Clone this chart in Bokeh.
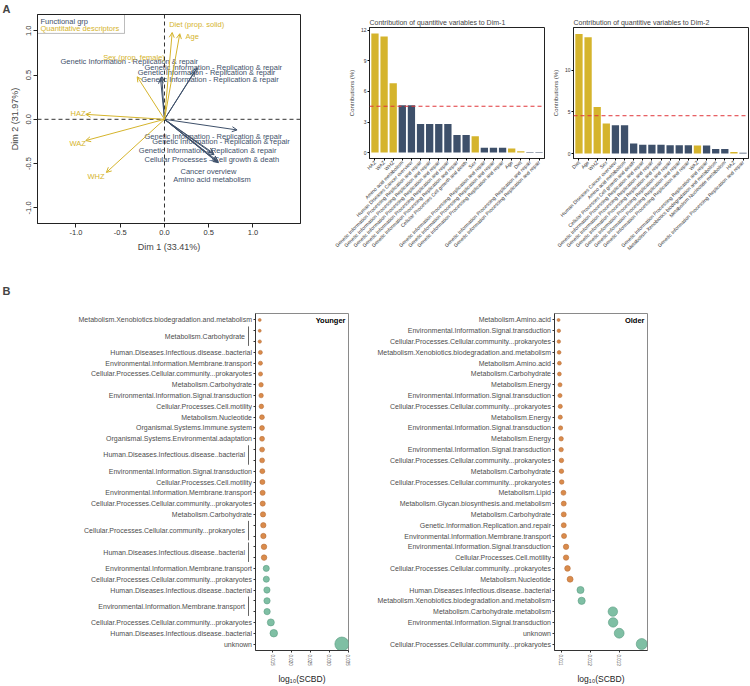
import math
from bokeh.plotting import figure
from bokeh.models import (Range1d, FixedTicker, NumeralTickFormatter, Span, Label, Arrow,
                          OpenHead, ColumnDataSource, BoxAnnotation)
from bokeh.layouts import row, column
from bokeh.embed import file_html
from bokeh.resources import INLINE
from bokeh.core.properties import value

FONT = "Liberation Sans"
YEL = "#D5B42C"
SLATE = "#3E506A"
ORANGE = "#DA8B4B"
ORANGE_L = "#B9703A"
GREEN = "#7FBFA4"
GREEN_L = "#5B9C82"
LABC = "#4d4d4d"

# ---------------- Panel A : biplot ----------------
desc_names = ["Diet (prop. solid)", "Age", "Sex (prop. female)", "HAZ", "WAZ", "WHZ"]
desc_x = [0.087, 0.173, -0.308, -0.89, -0.89, -0.657]
desc_y = [0.98, 0.966, 0.48, 0.056, -0.24, -0.60]
desc_lab_x = [0.053, 0.237, -0.693, -1.062, -1.073, -0.870]
desc_lab_y = [1.065, 0.936, 0.70, 0.06, -0.278, -0.645]

func_names = (["Genetic Information - Replication & repair"] * 7 +
              ["Cellular Processes - Cell growth & death", "Cancer overview",
               "Amino acid metabolism"])
func_x = [-0.045, 0.37, 0.34, -0.03, 0.82, 0.55, 0.56, 0.61, 0.60, 0.59]
func_y = [0.46, 0.58, 0.54, 0.48, -0.12, -0.38, -0.40, -0.49, -0.47, -0.48]
func_lab_x = [-1.175, -0.226, -0.302, -0.263, -0.226, -0.139, -0.290, -0.226, 0.181, 0.099]
func_lab_y = [0.647, 0.580, 0.524, 0.449, -0.189, -0.245, -0.349, -0.457, -0.593, -0.683]

bip_ticks = [-1.0, -0.5, 0.0, 0.5, 1.0]

# ---------------- Panel A : contribution bars ----------------
GIP = "Genetic Information Processing Replication and repair"
dim1_names = ["HAZ", "WAZ", "WHZ", "Amino acid metabolism", "Human Diseases Cancer overview",
              GIP, GIP, GIP, GIP, GIP, "Cellular Processes Cell growth and death", "Sex",
              GIP, GIP, GIP, "Age", "Diet", GIP, GIP]
dim1_vals = [11.7, 11.4, 6.8, 4.65, 4.65, 2.8, 2.8, 2.8, 2.8, 1.73, 1.73, 1.6,
             0.48, 0.48, 0.48, 0.4, 0.13, 0.07, 0.07]
dim1_kind = ["Q", "Q", "Q", "F", "F", "F", "F", "F", "F", "F", "F", "Q",
             "F", "F", "F", "Q", "Q", "F", "F"]

dim2_names = ["Diet", "Age", "WHZ", "Sex", "Human Diseases Cancer overview", "Amino acid metabolism",
              "Cellular Processes Cell growth and death", GIP, GIP, GIP, GIP, GIP, GIP, "WAZ", GIP,
              "Metabolism Xenobiotics biodegradation and metabolism",
              "Metabolism Nucleotide metabolism", "HAZ", GIP]
dim2_vals = [14.4, 14.0, 5.6, 3.6, 3.4, 3.4, 1.2, 1.06, 1.06, 1.06, 1.0, 1.0, 1.0, 0.95,
             0.95, 0.55, 0.55, 0.17, 0.1]
dim2_kind = ["Q", "Q", "Q", "Q", "F", "F", "F", "F", "F", "F", "F", "F", "F", "Q",
             "F", "F", "F", "Q", "F"]
ref_line = 4.55

# ---------------- Panel B : SCBD dot plots ----------------
MC = "Metabolism.Carbohydrate"
HD = "Human.Diseases.Infectious.disease..bacterial"
EM = "Environmental.Information.Membrane.transport"
CC = "Cellular.Processes.Cellular.community...prokaryotes"
ES = "Environmental.Information.Signal.transduction"
CM = "Cellular.Processes.Cell.motility"
XB = "Metabolism.Xenobiotics.biodegradation.and.metabolism"

yng_labels = [XB, MC, MC, HD, EM, CC, MC, ES, CM, "Metabolism.Nucleotide",
              "Organismal.Systems.Immune.system", "Organismal.Systems.Environmental.adaptation",
              HD, HD, ES, CM, EM, CC, MC, CC, CC, HD, HD, EM, CC, HD, EM, EM, CC, HD, "unknown"]
yng_vals = [0.01158, 0.01158, 0.01160, 0.01176, 0.01178, 0.01180, 0.01194, 0.01196, 0.01202,
            0.01218, 0.01220, 0.01221, 0.01222, 0.01223, 0.01228, 0.01230, 0.01236, 0.01238,
            0.01246, 0.01254, 0.01256, 0.01272, 0.01274, 0.01332, 0.01334, 0.01350, 0.01352,
            0.01354, 0.01453, 0.01531, 0.03334]
yng_grp = ["low"] * 23 + ["high"] * 8
yng_brackets = [(2, 3), (13, 14), (20, 21), (22, 23), (27, 28)]
yng_ticks = [0.015, 0.020, 0.025, 0.030, 0.035]

old_labels = ["Metabolism.Amino.acid", ES, CC, XB, "Metabolism.Amino.acid", MC,
              "Metabolism.Energy", ES, CC, "Metabolism.Energy", ES, "Metabolism.Energy", ES, CC,
              MC, CC, "Metabolism.Lipid", "Metabolism.Glycan.biosynthesis.and.metabolism", MC,
              "Genetic.Information.Replication.and.repair", EM, ES, CM, CC,
              "Metabolism.Nucleotide", HD, XB, "Metabolism.Carbohydrate.metabolism", ES,
              "unknown", CC]
old_vals = [0.01090, 0.01091, 0.01091, 0.01092, 0.01093, 0.01093, 0.01095, 0.01095, 0.01096,
            0.01096, 0.01097, 0.01099, 0.01099, 0.01100, 0.01100, 0.01101, 0.01107, 0.01108,
            0.01108, 0.01108, 0.01109, 0.01116, 0.01116, 0.01121, 0.01130, 0.01166, 0.01170,
            0.01278, 0.01279, 0.01300, 0.01378]
old_grp = ["low"] * 25 + ["high"] * 6
old_ticks = [0.011, 0.012, 0.013, 0.014]

ROW_A_H = 265
ROW_B_H = 421
B_TOP = 48
B_BOT = 34


def style_axes(p, size="7px", color="#333333"):
    for ax in (p.xaxis[0], p.yaxis[0]):
        ax.major_label_text_font = FONT
        ax.major_label_text_font_size = size
        ax.major_label_text_color = color
        ax.axis_label_text_font = FONT
        ax.axis_label_text_font_style = "normal"
        ax.minor_tick_line_color = None
        ax.major_tick_in = 0


# ---------- biplot ----------
bxr = Range1d(-1.435, 1.537)
byr = Range1d(-1.176, 1.183)
bip = figure(width=310, height=ROW_A_H, x_range=bxr, y_range=byr, output_backend="svg",
             toolbar_location=None, min_border_left=37, min_border_right=10,
             min_border_top=13, min_border_bottom=ROW_A_H - 223)
bip.grid.visible = False
bip.outline_line_color = "#222222"
style_axes(bip, "7.5px", "#333333")
bip.xaxis.ticker = FixedTicker(ticks=bip_ticks)
bip.yaxis.ticker = FixedTicker(ticks=bip_ticks)
bip.xaxis.formatter = NumeralTickFormatter(format="0.0")
bip.yaxis.formatter = NumeralTickFormatter(format="0.0")
bip.yaxis.major_label_orientation = "vertical"
bip.xaxis.axis_label = "Dim 1 (33.41%)"
bip.yaxis.axis_label = "Dim 2 (31.97%)"
for ax in (bip.xaxis[0], bip.yaxis[0]):
    ax.axis_label_text_font_size = "9px"
    ax.major_tick_out = 4
    ax.major_label_standoff = 2
    ax.axis_label_standoff = 4
    ax.axis_line_color = "#222222"
    ax.major_tick_line_color = "#222222"
bip.title.text = "A"
bip.title.text_font = FONT
bip.title.text_font_size = "11px"
bip.title.text_font_style = "bold"
bip.title.align = "left"
bip.title.offset = -35
bip.title.standoff = 0

bip.add_layout(Span(location=0, dimension="width", line_color="#333333", line_dash="4 3", line_width=1))
bip.add_layout(Span(location=0, dimension="height", line_color="#333333", line_dash="4 3", line_width=1))

src_f = ColumnDataSource(dict(x0=[0] * len(func_x), y0=[0] * len(func_y), x1=func_x, y1=func_y))
bip.add_layout(Arrow(end=OpenHead(size=5, line_color=SLATE, line_width=1), source=src_f,
                     x_start="x0", y_start="y0", x_end="x1", y_end="y1",
                     line_color=SLATE, line_width=1))
src_d = ColumnDataSource(dict(x0=[0] * len(desc_x), y0=[0] * len(desc_y), x1=desc_x, y1=desc_y))
bip.add_layout(Arrow(end=OpenHead(size=5, line_color=YEL, line_width=1), source=src_d,
                     x_start="x0", y_start="y0", x_end="x1", y_end="y1",
                     line_color=YEL, line_width=1))
bip.text(x=func_lab_x, y=func_lab_y, text=func_names, text_color=SLATE,
         text_font=value(FONT), text_font_size="7.5px", text_align="left", text_baseline="middle")
bip.text(x=desc_lab_x, y=desc_lab_y, text=desc_names, text_color=YEL,
         text_font=value(FONT), text_font_size="7.5px", text_align="left", text_baseline="middle")

bpx = (bxr.end - bxr.start) / 263.0
bpy = (byr.end - byr.start) / 210.0
bip.add_layout(BoxAnnotation(left=bxr.start, right=bxr.start + 87 * bpx, top=byr.end,
                             bottom=byr.end - 19 * bpy, fill_alpha=0, line_color="#222222",
                             line_width=1))
bip.add_layout(Label(x=bxr.start, y=byr.end, x_offset=3, y_offset=-2, text="Functional grp",
                     text_color=SLATE, text_font=FONT, text_font_size="7.5px",
                     text_baseline="top"))
bip.add_layout(Label(x=bxr.start, y=byr.end, x_offset=3, y_offset=-9,
                     text="Quantitative descriptors", text_color=YEL, text_font=FONT,
                     text_font_size="7.5px", text_baseline="top"))


# ---------- contribution bars ----------
def barchart(title, names, vals, kinds, ylo, yhi, ticks, width, mbl, mbr, mbt):
    n = len(vals)
    xs = list(range(1, n + 1))
    p = figure(width=width, height=ROW_A_H, x_range=Range1d(0.4, n + 0.6),
               y_range=Range1d(ylo, yhi), output_backend="svg", toolbar_location=None,
               min_border_left=mbl, min_border_right=mbr, min_border_top=mbt,
               min_border_bottom=ROW_A_H - 158)
    p.grid.visible = False
    p.outline_line_color = "#222222"
    p.vbar(x=xs, top=vals, width=0.8, fill_color=[YEL if k == "Q" else SLATE for k in kinds],
           line_color=None)
    p.add_layout(Span(location=ref_line, dimension="width", line_color="#E0353A",
                      line_dash="4 3", line_width=1))
    style_axes(p, "5px", "#333333")
    p.xaxis.ticker = FixedTicker(ticks=xs)
    p.xaxis.major_label_overrides = {i: nm for i, nm in zip(xs, names)}
    p.xaxis.major_label_orientation = math.pi / 4
    p.yaxis.ticker = FixedTicker(ticks=ticks)
    p.yaxis.axis_label = "Contributions (%)"
    p.yaxis.axis_label_text_font_size = "6px"
    for ax in (p.xaxis[0], p.yaxis[0]):
        ax.major_tick_out = 2
        ax.major_label_standoff = 1
        ax.axis_label_standoff = 3
        ax.axis_line_color = "#222222"
    p.title.text = title
    p.title.text_font = FONT
    p.title.text_font_size = "7px"
    p.title.text_font_style = "normal"
    p.title.align = "left"
    p.title.standoff = 3
    return p


c1 = barchart("Contribution of quantitive variables to Dim-1", dim1_names, dim1_vals, dim1_kind,
              -0.58, 12.28, [0, 3, 6, 9, 12], 238, 59, 4, 25)
c2 = barchart("Contribution of quantitive variables to Dim-2", dim2_names, dim2_vals, dim2_kind,
              -0.6, 15.17, [0, 5, 10], 202, 25, 2, 27)


# ---------- SCBD dot plots ----------
def dotplot(vals, grp, ticks, xlo, xhi, yr, width, mbr, dmax, title):
    n = len(vals)
    ys = list(range(1, n + 1))
    xr = Range1d(xlo, xhi)
    p = figure(width=width, height=ROW_B_H, x_range=xr, y_range=yr, output_backend="svg",
               toolbar_location=None, min_border_left=3, min_border_right=mbr,
               min_border_top=B_TOP, min_border_bottom=B_BOT)
    p.grid.visible = False
    p.outline_line_color = "#8a8a8a"
    vmin, vmax = min(vals), max(vals)
    sizes = [3 + math.sqrt((v - vmin) / (vmax - vmin)) * (dmax - 3) for v in vals]
    src = ColumnDataSource(dict(
        x=vals, y=ys, s=sizes,
        fc=[ORANGE if g == "low" else GREEN for g in grp],
        lc=[ORANGE_L if g == "low" else GREEN_L for g in grp]))
    p.scatter(x="x", y="y", size="s", fill_color="fc", line_color="lc", line_width=0.6,
              source=src)
    style_axes(p, "6.5px", LABC)
    p.yaxis.ticker = FixedTicker(ticks=ys)
    p.yaxis.major_label_overrides = {i: "" for i in ys}
    p.yaxis.major_label_standoff = 0
    p.xaxis.ticker = FixedTicker(ticks=ticks)
    p.xaxis.formatter = NumeralTickFormatter(format="0.000")
    p.xaxis.major_label_orientation = "vertical"
    p.xaxis.major_label_text_font_size = "4.5px"
    p.xaxis.axis_label = "log\u2081\u2080(SCBD)"
    p.xaxis.axis_label_text_font_size = "8.5px"
    p.xaxis.axis_label_text_color = "#222222"
    p.xaxis.major_label_standoff = 2
    p.xaxis.axis_label_standoff = 5
    for ax in (p.xaxis[0], p.yaxis[0]):
        ax.major_tick_out = 2
        ax.axis_line_color = "#333333"
        ax.major_tick_line_color = "#333333"
    p.add_layout(Label(x=xhi, y=yr.end, x_offset=-3, y_offset=-2, text=title, text_align="right",
                       text_baseline="top", text_font=FONT, text_font_size="7.5px",
                       text_font_style="bold", text_color="black"))
    return p


def labelfig(labels, brackets, yr, width, panel):
    n = len(labels)
    ys = list(range(1, n + 1))
    in_br = set()
    for a, b in brackets:
        in_br.update(range(a, b + 1))
    p = figure(width=width, height=ROW_B_H, x_range=Range1d(0, width), y_range=yr,
               output_backend="svg", toolbar_location=None, x_axis_location=None,
               y_axis_location=None, min_border_left=0, min_border_right=0,
               min_border_top=B_TOP, min_border_bottom=B_BOT)
    p.grid.visible = False
    p.outline_line_color = None
    sy = [y for y in ys if y not in in_br]
    p.text(x=[width - 0.5] * len(sy), y=sy, text=[labels[y - 1] for y in sy],
           text_align="right", text_baseline="middle", text_font=value(FONT),
           text_font_size="7px", text_color=LABC)
    if brackets:
        p.text(x=[width - 7.5] * len(brackets), y=[(a + b) / 2 for a, b in brackets],
               text=[labels[a - 1] for a, b in brackets], text_align="right",
               text_baseline="middle", text_font=value(FONT), text_font_size="7px",
               text_color=LABC)
        p.segment(x0=[width - 4] * len(brackets), x1=[width - 4] * len(brackets),
                  y0=[a - 0.4 for a, b in brackets], y1=[b + 0.4 for a, b in brackets],
                  line_color="#666666", line_width=1)
    if panel:
        p.title.text = panel
        p.title.text_font = FONT
        p.title.text_font_size = "11px"
        p.title.text_font_style = "bold"
        p.title.align = "left"
        p.title.offset = 2
        p.title.standoff = 34
    return p


yr_y = Range1d(len(yng_vals) + 0.6, 0.4)
yr_o = Range1d(len(old_vals) + 0.6, 0.4)
lab_y = labelfig(yng_labels, yng_brackets, yr_y, 252, "B")
yng = dotplot(yng_vals, yng_grp, yng_ticks, 0.01047, 0.0351, yr_y, 108, 12, 14, "Younger")
lab_o = labelfig(old_labels, [], yr_o, 191, None)
old = dotplot(old_vals, old_grp, old_ticks, 0.01076, 0.01398, yr_o, 109, 13, 11, "Older")

layout = column(row(column(bip), column(row(c1, c2))), row(lab_y, yng, lab_o, old))
open("out.html", "w").write(file_html(layout, INLINE))
